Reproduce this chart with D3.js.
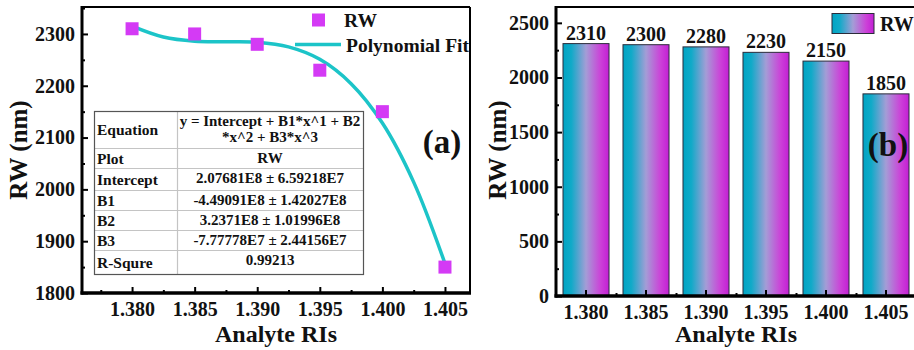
<!DOCTYPE html>
<html>
<head>
<meta charset="utf-8">
<script src="https://cdn.jsdelivr.net/npm/d3@7"></script>
<style>
  html, body { margin: 0; padding: 0; background: #fff; }
  svg { display: block; }
  text { font-family: "Liberation Serif", "Times New Roman", serif; font-weight: bold; fill: #111; }
</style>
</head>
<body>
<svg id="chart" width="914" height="350"></svg>
<script>
// values
const riValues = [1.380, 1.385, 1.390, 1.395, 1.400, 1.405];
const rwValues = [2310, 2300, 2280, 2230, 2150, 1850];
const fitX = [1.380, 1.3825, 1.385, 1.3875, 1.390, 1.3925, 1.395, 1.3975, 1.400, 1.4025, 1.405];
const fitY = [2315, 2294, 2286, 2285, 2284, 2275, 2251, 2204, 2128, 2014, 1857];
const leftYTicks = [1800, 1900, 2000, 2100, 2200, 2300];
const leftYMinor = [1850, 1950, 2050, 2150, 2250, 2350];
const leftXMinor = [1.3775, 1.3825, 1.3875, 1.3925, 1.3975, 1.4025];
const rightYTicks = [0, 500, 1000, 1500, 2000, 2500];
const rightYMinor = [250, 750, 1250, 1750, 2250];
const tableRows = [
  ['Equation', ['y = Intercept + B1*x^1 + B2', '*x^2 + B3*x^3']],
  ['Plot', ['RW']],
  ['Intercept', ['2.07681E8 \u00b1 6.59218E7']],
  ['B1', ['-4.49091E8 \u00b1 1.42027E8']],
  ['B2', ['3.2371E8 \u00b1 1.01996E8']],
  ['B3', ['-7.77778E7 \u00b1 2.44156E7']],
  ['R-Squre', ['0.99213']]
];

const svg = d3.select('#chart');
svg.append('rect').attr('width', 914).attr('height', 350).attr('fill', '#fff');

const fmtRI = d3.format('.3f');
const fmtInt = d3.format('d');
const cyan = '#1cc4c8';
const magenta = '#d43af5';

// gradient used by the bars
const grad = svg.append('defs').append('linearGradient')
  .attr('id', 'barGrad')
  .attr('x1', '0%').attr('x2', '100%').attr('y1', '0%').attr('y2', '0%');
[[0, '#00a4c4'], [0.18, '#10aac8'], [0.5, '#a49dd6'], [0.82, '#cc40d8'], [1, '#c21fd4']]
  .forEach(([o, c]) => grad.append('stop').attr('offset', o).attr('stop-color', c));

function styleAxis(g) {
  g.select('.domain').remove();
  g.selectAll('line').attr('stroke', '#000').attr('stroke-width', 2);
  g.selectAll('text').style('font-size', '20px').attr('fill', '#111');
}

// ---------- panel (a) ----------
const A = { left: 82, right: 470, top: 7, bottom: 293 };
const xL = d3.scaleLinear().domain([1.376, 1.407]).range([A.left, A.right]);
const yL = d3.scaleLinear().domain([1800, 2352]).range([A.bottom, A.top]);

svg.append('g')
  .attr('transform', `translate(0,${A.bottom})`)
  .call(d3.axisBottom(xL).tickValues(riValues).tickFormat(fmtRI).tickSize(-6).tickPadding(9))
  .call(styleAxis);
svg.append('g')
  .attr('transform', `translate(0,${A.bottom})`)
  .call(d3.axisBottom(xL).tickValues(leftXMinor).tickFormat('').tickSize(-3))
  .call(styleAxis);
svg.append('g')
  .attr('transform', `translate(${A.left},0)`)
  .call(d3.axisLeft(yL).tickValues(leftYTicks).tickFormat(fmtInt).tickSize(-6).tickPadding(7))
  .call(styleAxis);
svg.append('g')
  .attr('transform', `translate(${A.left},0)`)
  .call(d3.axisLeft(yL).tickValues(leftYMinor.filter(v => v < 2352)).tickFormat('').tickSize(-3))
  .call(styleAxis);

// frame
svg.append('line').attr('x1', A.left).attr('x2', A.right).attr('y1', A.top).attr('y2', A.top)
  .attr('stroke', '#000').attr('stroke-width', 2);
svg.append('line').attr('x1', A.right).attr('x2', A.right).attr('y1', A.top).attr('y2', A.bottom)
  .attr('stroke', '#000').attr('stroke-width', 2);
svg.append('line').attr('x1', A.left).attr('x2', A.left).attr('y1', A.top - 1).attr('y2', A.bottom + 1.5)
  .attr('stroke', '#000').attr('stroke-width', 3);
svg.append('line').attr('x1', A.left - 1.5).attr('x2', A.right + 1).attr('y1', A.bottom).attr('y2', A.bottom)
  .attr('stroke', '#000').attr('stroke-width', 3.5);

// fit curve
const fitLine = d3.line()
  .x((d, i) => xL(fitX[i]))
  .y(d => yL(d))
  .curve(d3.curveCatmullRom.alpha(0.5));
svg.append('path')
  .datum(fitY)
  .attr('fill', 'none')
  .attr('stroke', cyan)
  .attr('stroke-width', 3.5)
  .attr('d', fitLine);

// data squares
svg.append('g').selectAll('rect')
  .data(rwValues)
  .join('rect')
  .attr('x', (d, i) => xL(riValues[i]) - 6.5)
  .attr('y', d => yL(d) - 6.5)
  .attr('width', 13).attr('height', 13)
  .attr('fill', magenta);

// legend (a)
svg.append('rect').attr('x', 312).attr('y', 13.5).attr('width', 13).attr('height', 13).attr('fill', magenta);
svg.append('text').attr('x', 344).attr('y', 27).style('font-size', '19.5px').text('RW');
svg.append('line').attr('x1', 295).attr('x2', 341).attr('y1', 44.5).attr('y2', 44.5)
  .attr('stroke', cyan).attr('stroke-width', 3.5);
svg.append('text').attr('x', 346).attr('y', 52).style('font-size', '19.5px').text('Polynomial Fit');

// fit table
const T = { x0: 94, x1: 177, x2: 363 };
const rowEdges = [111, 148, 168, 190, 210, 230, 250, 274];
const tbl = svg.append('g');
tbl.append('rect').attr('x', T.x0).attr('y', rowEdges[0])
  .attr('width', T.x2 - T.x0).attr('height', rowEdges[rowEdges.length - 1] - rowEdges[0])
  .attr('fill', '#fff');
rowEdges.slice(1, -1).forEach(y => {
  tbl.append('line').attr('x1', T.x0).attr('x2', T.x2).attr('y1', y + 0.5).attr('y2', y + 0.5)
    .attr('stroke', '#c4c4c4').attr('stroke-width', 1.2);
});
tbl.append('line').attr('x1', T.x1 + 0.5).attr('x2', T.x1 + 0.5).attr('y1', rowEdges[0]).attr('y2', rowEdges[rowEdges.length - 1])
  .attr('stroke', '#c4c4c4').attr('stroke-width', 1.2);
tbl.append('rect').attr('x', T.x0 + 0.5).attr('y', rowEdges[0] + 0.5)
  .attr('width', T.x2 - T.x0).attr('height', rowEdges[rowEdges.length - 1] - rowEdges[0])
  .attr('fill', 'none').attr('stroke', '#555').attr('stroke-width', 1.2);
tableRows.forEach(([label, vals], i) => {
  const top = rowEdges[i], h = rowEdges[i + 1] - top;
  tbl.append('text').attr('x', T.x0 + 3).attr('y', top + h / 2 + 5.5)
    .style('font-size', '15.5px').text(label);
  vals.forEach((v, j) => {
    tbl.append('text').attr('x', (T.x1 + T.x2) / 2).attr('y', top + 15 + j * 16)
      .attr('text-anchor', 'middle').style('font-size', '15px').text(v);
  });
});

svg.append('text').attr('x', 442).attr('y', 153).attr('text-anchor', 'middle')
  .style('font-size', '33px').text('(a)');

svg.append('text').attr('x', 276).attr('y', 342).attr('text-anchor', 'middle')
  .style('font-size', '24px').text('Analyte RIs');
svg.append('text').attr('transform', 'translate(27,150) rotate(-90)').attr('text-anchor', 'middle')
  .style('font-size', '25px').text('RW (nm)');

// ---------- panel (b) ----------
const B = { left: 556, right: 916, top: 7, bottom: 296 };
const xR = d3.scaleBand().domain(riValues.map(fmtRI)).range([B.left, B.right])
  .paddingInner(0.233).paddingOuter(0.1167);
const yR = d3.scaleLinear().domain([0, 2645]).range([B.bottom, B.top]);

svg.append('g').selectAll('rect')
  .data(rwValues)
  .join('rect')
  .attr('x', (d, i) => xR(fmtRI(riValues[i])))
  .attr('y', d => yR(d))
  .attr('width', xR.bandwidth())
  .attr('height', d => B.bottom - yR(d))
  .attr('fill', 'url(#barGrad)')
  .attr('stroke', '#2b2b3a')
  .attr('stroke-width', 1);

svg.append('g').selectAll('text')
  .data(rwValues)
  .join('text')
  .attr('x', (d, i) => xR(fmtRI(riValues[i])) + xR.bandwidth() / 2)
  .attr('y', d => yR(d) - 4)
  .attr('text-anchor', 'middle')
  .style('font-size', '20px')
  .text(d => d);

svg.append('g')
  .attr('transform', `translate(0,${B.bottom})`)
  .call(d3.axisBottom(xR).tickSize(-6).tickPadding(9))
  .call(styleAxis);
const bounds = xR.domain().map(c => xR(c) + xR.bandwidth() + xR.step() * xR.paddingInner() / 2);
const xMinorScale = d3.scaleLinear().domain([0, 914]).range([0, 914]);
svg.append('g')
  .attr('transform', `translate(0,${B.bottom})`)
  .call(d3.axisBottom(xMinorScale).tickValues(bounds).tickFormat('').tickSize(-3))
  .call(styleAxis);
svg.append('g')
  .attr('transform', `translate(${B.left},0)`)
  .call(d3.axisLeft(yR).tickValues(rightYTicks).tickFormat(fmtInt).tickSize(-6).tickPadding(7))
  .call(styleAxis);
svg.append('g')
  .attr('transform', `translate(${B.left},0)`)
  .call(d3.axisLeft(yR).tickValues(rightYMinor).tickFormat('').tickSize(-3))
  .call(styleAxis);

svg.append('line').attr('x1', B.left).attr('x2', B.right).attr('y1', B.top).attr('y2', B.top)
  .attr('stroke', '#000').attr('stroke-width', 2);
svg.append('line').attr('x1', B.left).attr('x2', B.left).attr('y1', B.top - 1).attr('y2', B.bottom + 1.5)
  .attr('stroke', '#000').attr('stroke-width', 3);
svg.append('line').attr('x1', B.left - 1.5).attr('x2', B.right).attr('y1', B.bottom).attr('y2', B.bottom)
  .attr('stroke', '#000').attr('stroke-width', 3.5);

// legend (b)
svg.append('rect').attr('x', 832).attr('y', 13.5).attr('width', 42).attr('height', 20)
  .attr('fill', 'url(#barGrad)').attr('stroke', '#2b2b3a').attr('stroke-width', 1);
svg.append('text').attr('x', 880).attr('y', 31).style('font-size', '20px').text('RW');

svg.append('text').attr('x', 888).attr('y', 156).attr('text-anchor', 'middle')
  .style('font-size', '33px').text('(b)');

svg.append('text').attr('x', 736).attr('y', 342).attr('text-anchor', 'middle')
  .style('font-size', '24px').text('Analyte RIs');
svg.append('text').attr('transform', 'translate(506,150) rotate(-90)').attr('text-anchor', 'middle')
  .style('font-size', '25px').text('RW (nm)');
</script>
</body>
</html>
